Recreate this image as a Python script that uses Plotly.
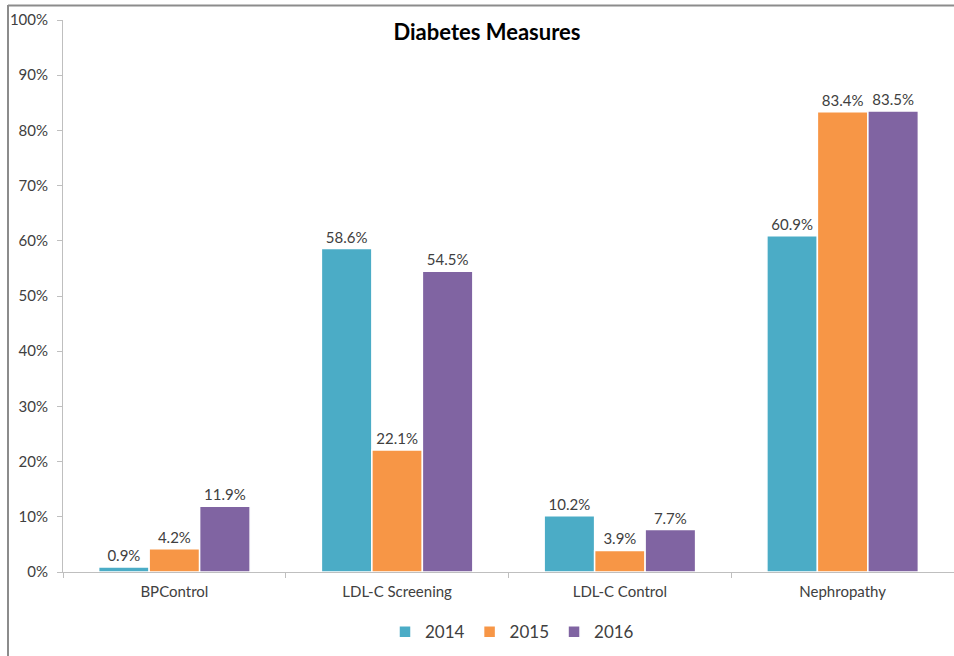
import plotly.graph_objects as go

categories = ["BPControl", "LDL-C Screening", "LDL-C Control", "Nephropathy"]
years = ["2014", "2015", "2016"]
values_2014 = [0.9, 58.6, 10.2, 60.9]
values_2015 = [4.2, 22.1, 3.9, 83.4]
values_2016 = [11.9, 54.5, 7.7, 83.5]
colors = ["#4BACC6", "#F79646", "#8064A2"]

FONT = "Lato, 'Open Sans', sans-serif"
fig = go.Figure()
for name, vals, col in zip(years, [values_2014, values_2015, values_2016], colors):
    fig.add_trace(go.Bar(
        x=categories, y=vals, name=name,
        marker=dict(color=col, line=dict(color="white", width=1.5)),
        text=[f"{v:.1f}%" for v in vals], textposition="outside",
        textfont=dict(size=15, color="#404040", family=FONT),
        cliponaxis=False,
    ))

fig.update_layout(
    width=954, height=656,
    barmode="group", bargap=0.32, bargroupgap=0,
    plot_bgcolor="white", paper_bgcolor="white",
    margin=dict(l=63, r=0, t=20, b=84),
    font=dict(family=FONT, color="#404040", size=14),
    title=dict(text="<b>Diabetes Measures</b>", x=(487 - 63) / 891, xref="paper", xanchor="center",
               y=1 - 32 / 656, yref="container", yanchor="middle",
               font=dict(size=22, color="#000000", family=FONT)),
    legend=dict(orientation="h", x=(512 - 63) / 891, xanchor="center", xref="paper",
                y=-0.109, yanchor="middle",
                font=dict(size=17, color="#404040"), itemwidth=30,
                traceorder="normal"),
    xaxis=dict(showline=True, linecolor="#BFBFBF", linewidth=1,
               ticks="outside", tickson="boundaries", ticklen=5, tickcolor="#BFBFBF",
               ticklabelstandoff=6,
               tickfont=dict(size=15, color="#404040")),
    yaxis=dict(range=[0, 100], dtick=10, ticksuffix="%", showgrid=False,
               showline=True, linecolor="#BFBFBF", linewidth=1,
               ticks="outside", ticklen=5, tickcolor="#BFBFBF",
               ticklabelstandoff=6,
               tickfont=dict(size=15, color="#404040"), zeroline=False),
)

# outer chart border (left and top edges visible)
fig.add_shape(type="line", xref="paper", yref="paper",
              x0=(8 - 63) / 891, x1=(8 - 63) / 891, y0=-84 / 552, y1=(572 - 5) / 552,
              line=dict(color="#8C8C8C", width=2))
fig.add_shape(type="line", xref="paper", yref="paper",
              x0=(8 - 63) / 891, x1=1.01, y0=(572 - 5.5) / 552, y1=(572 - 5.5) / 552,
              line=dict(color="#8C8C8C", width=2))

fig.write_html("out.html", config={"displayModeBar": False},
               post_script="document.body.style.margin='0';")
